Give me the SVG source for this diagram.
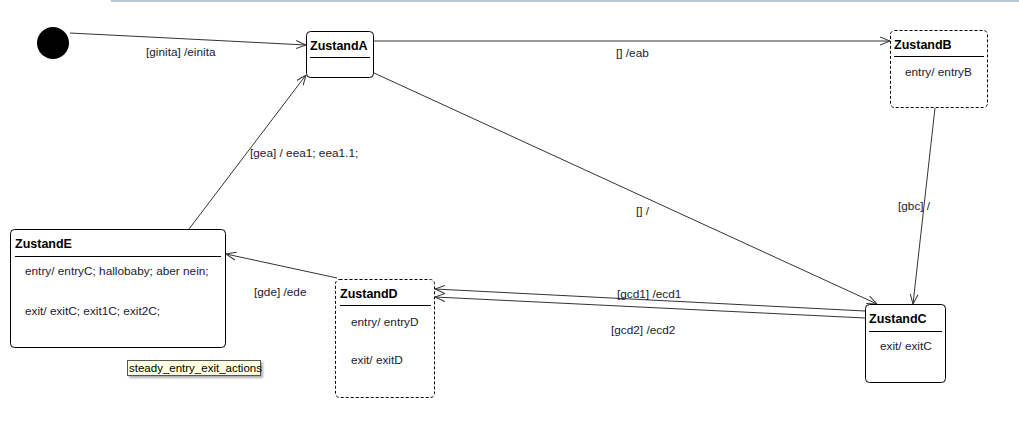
<svg xmlns="http://www.w3.org/2000/svg" width="1019" height="421" viewBox="0 0 1019 421">
<style>
.st{fill:#fff;stroke:#000;stroke-width:1}
.dash{stroke-dasharray:3,2}
.ti{font-family:"Liberation Sans","DejaVu Sans",sans-serif;font-weight:bold;font-size:12.5px;fill:#000}
.tx{font-family:"Liberation Sans","DejaVu Sans",sans-serif;font-size:11.8px;fill:#1a1a33}
.nt{font-family:"Liberation Sans","DejaVu Sans",sans-serif;font-size:11.5px;fill:#000}
.sep{stroke:#000;stroke-width:1}
.cn{fill:none;stroke:#333;stroke-width:1;marker-end:url(#arr)}
</style>
<defs>
<marker id="arr" viewBox="0 0 10 10" refX="10" refY="5" markerWidth="10" markerHeight="10" markerUnits="userSpaceOnUse" orient="auto">
<path d="M0,1 L10,5 L0,9" fill="none" stroke="#333" stroke-width="1"/>
</marker>
<filter id="sh" x="-10%" y="-30%" width="130%" height="180%"><feDropShadow dx="2" dy="2" stdDeviation="1" flood-color="#888" flood-opacity="0.7"/></filter>
</defs>
<rect x="111" y="0" width="908" height="2" fill="#b8c4d8"/>
<g id="connectors">
<line class="cn" x1="70" y1="33" x2="306" y2="45"/>
<text class="tx" x="146" y="56">[ginita] /einita</text>
<line class="cn" x1="374" y1="41" x2="890" y2="41"/>
<text class="tx" x="616" y="57">[] /eab</text>
<line class="cn" x1="374" y1="73" x2="877" y2="304"/>
<text class="tx" x="636" y="215">[] /</text>
<line class="cn" x1="935" y1="108" x2="913" y2="304"/>
<text class="tx" x="898" y="210">[gbc] /</text>
<line class="cn" x1="189" y1="229" x2="306" y2="75"/>
<text class="tx" x="250" y="157">[gea] / eea1; eea1.1;</text>
<line class="cn" x1="337" y1="278" x2="226" y2="254"/>
<text class="tx" x="254" y="296">[gde] /ede</text>
<line class="cn" x1="865" y1="311" x2="435" y2="289"/>
<text class="tx" x="617" y="298">[gcd1] /ecd1</text>
<line class="cn" x1="865" y1="318" x2="435" y2="297"/>
<text class="tx" x="611" y="334">[gcd2] /ecd2</text>
</g>
<g id="init"><circle cx="53" cy="43" r="16" fill="#000"/></g>
<g id="ZustandA">
<rect class="st" x="306.5" y="31.5" width="67" height="46" rx="4"/>
<text class="ti" x="310" y="50">ZustandA</text>
<line class="sep" x1="310" y1="57.5" x2="370" y2="57.5"/>
</g>
<g id="ZustandB">
<rect class="st dash" x="890.5" y="30.5" width="97" height="77" rx="4"/>
<text class="ti" x="894" y="49">ZustandB</text>
<line class="sep" x1="894" y1="56.5" x2="984" y2="56.5"/>
<text class="tx" x="905" y="76">entry/ entryB</text>
</g>
<g id="ZustandC">
<rect class="st" x="865.5" y="304.5" width="80" height="78" rx="4"/>
<text class="ti" x="869" y="323">ZustandC</text>
<line class="sep" x1="869" y1="331.5" x2="942" y2="331.5"/>
<text class="tx" x="880" y="350">exit/ exitC</text>
</g>
<g id="ZustandD">
<rect class="st dash" x="335.5" y="279.5" width="99" height="118" rx="4"/>
<text class="ti" x="340" y="298">ZustandD</text>
<line class="sep" x1="340" y1="305.5" x2="431" y2="305.5"/>
<text class="tx" x="351" y="326">entry/ entryD</text>
<text class="tx" x="351" y="364">exit/ exitD</text>
</g>
<g id="ZustandE">
<rect class="st" x="10.5" y="229.5" width="215" height="118" rx="4"/>
<text class="ti" x="15" y="248">ZustandE</text>
<line class="sep" x1="15" y1="256.5" x2="221" y2="256.5"/>
<text class="tx" x="25" y="275">entry/ entryC; hallobaby; aber nein;</text>
<text class="tx" x="25" y="315">exit/ exitC; exit1C; exit2C;</text>
</g>
<g id="note">
<rect x="127.5" y="360.5" width="133" height="15" fill="#ffffe1" stroke="#555" stroke-width="1" filter="url(#sh)"/>
<text class="nt" x="129" y="372">steady_entry_exit_actions</text>
</g>
</svg>
